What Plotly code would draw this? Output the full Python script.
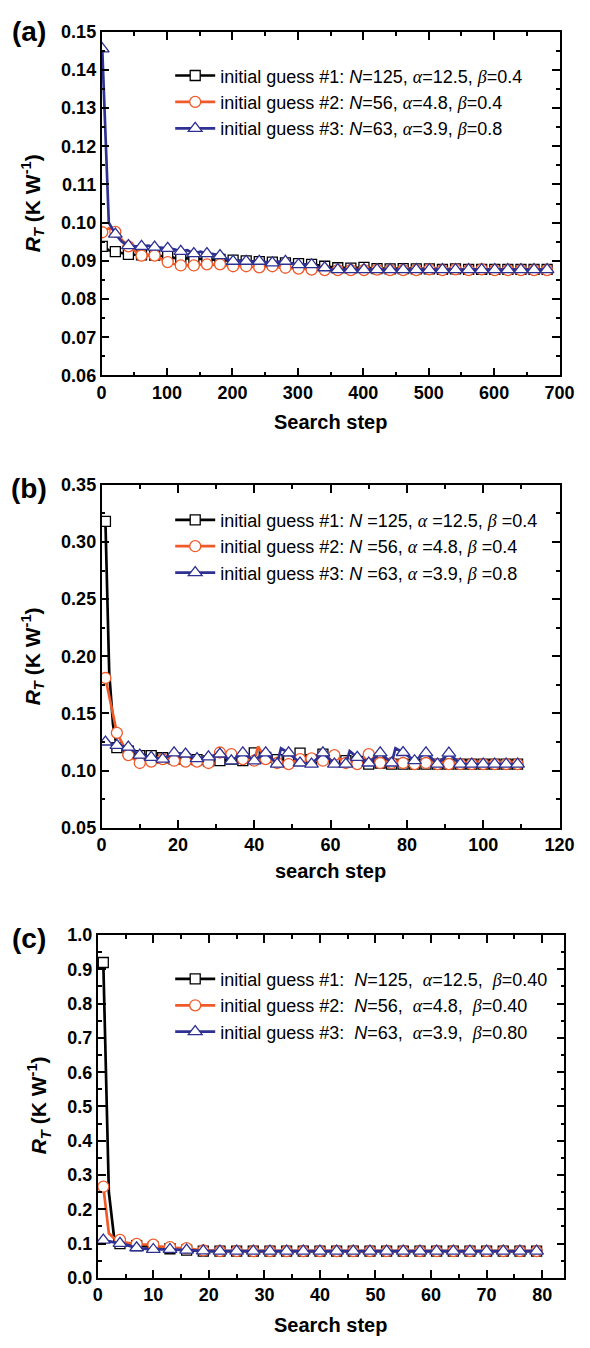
import plotly.graph_objects as go

W, H = 590, 1348

BLACK = "#000000"
ORANGE = "#F05A28"
BLUE = "#2E3192"

# ---------------- panel (a): long search, 0-700 steps ----------------
a_steps = list(range(1, 682, 10))
a_guess1 = [0.0938, 0.0928, 0.0924, 0.0920, 0.0917, 0.0916, 0.0916, 0.0915, 0.0915, 0.0913,
            0.0912, 0.0908, 0.0906, 0.0907, 0.0906, 0.0905, 0.0905, 0.0903, 0.0904, 0.0901,
            0.0902, 0.0900, 0.0900, 0.0898, 0.0898, 0.0896, 0.0897, 0.0894, 0.0895, 0.0893,
            0.0893, 0.0890, 0.0891, 0.0888, 0.0886, 0.0884, 0.0882, 0.0882, 0.0881, 0.0882,
            0.0883, 0.0881, 0.0880, 0.0880, 0.0879, 0.0880, 0.0880, 0.0879, 0.0879, 0.0880,
            0.0879, 0.0879, 0.0878, 0.0879, 0.0879, 0.0878, 0.0878, 0.0879, 0.0878, 0.0878,
            0.0878, 0.0878, 0.0878, 0.0878, 0.0878, 0.0878, 0.0878, 0.0878, 0.0878]
a_guess2 = [0.0975, 0.0985, 0.0976, 0.0955, 0.0938, 0.0925, 0.0914, 0.0915, 0.0914, 0.0905,
            0.0897, 0.0892, 0.0888, 0.0889, 0.0888, 0.0890, 0.0891, 0.0890, 0.0891, 0.0888,
            0.0886, 0.0887, 0.0886, 0.0884, 0.0883, 0.0885, 0.0886, 0.0883, 0.0882, 0.0881,
            0.0880, 0.0878, 0.0877, 0.0876, 0.0876, 0.0877, 0.0876, 0.0876, 0.0876, 0.0876,
            0.0876, 0.0877, 0.0877, 0.0876, 0.0876, 0.0876, 0.0876, 0.0877, 0.0876, 0.0876,
            0.0878, 0.0877, 0.0876, 0.0876, 0.0878, 0.0877, 0.0876, 0.0876, 0.0878, 0.0876,
            0.0876, 0.0876, 0.0876, 0.0876, 0.0876, 0.0876, 0.0876, 0.0876, 0.0876]
a_guess3 = [0.1455, 0.1000, 0.0970, 0.0950, 0.0940, 0.0938, 0.0938, 0.0940, 0.0936, 0.0935,
            0.0933, 0.0930, 0.0925, 0.0928, 0.0919, 0.0924, 0.0919, 0.0918, 0.0914, 0.0905,
            0.0899, 0.0900, 0.0899, 0.0898, 0.0899, 0.0897, 0.0895, 0.0898, 0.0899, 0.0893,
            0.0890, 0.0891, 0.0890, 0.0884, 0.0882, 0.0878, 0.0877, 0.0877, 0.0877, 0.0877,
            0.0877, 0.0877, 0.0877, 0.0877, 0.0877, 0.0877, 0.0877, 0.0877, 0.0877, 0.0877,
            0.0877, 0.0877, 0.0877, 0.0877, 0.0877, 0.0877, 0.0877, 0.0877, 0.0877, 0.0877,
            0.0877, 0.0877, 0.0877, 0.0877, 0.0877, 0.0877, 0.0877, 0.0877, 0.0877]

GREEK = "<span style=\"font-family:'Liberation Serif';font-style:italic\">%s</span>"
ALPHA, BETA = GREEK % "α", GREEK % "β"

a_names = [
    f"initial guess #1: <i>N</i>=125, {ALPHA}=12.5, {BETA}=0.4",
    f"initial guess #2: <i>N</i>=56, {ALPHA}=4.8, {BETA}=0.4",
    f"initial guess #3: <i>N</i>=63, {ALPHA}=3.9, {BETA}=0.8",
]

# ---------------- panel (b): 0-110 steps ----------------
b_steps1 = [1, 2, 3, 4, 7, 10, 13, 16, 19, 22, 25, 28, 31, 34, 37, 40, 43, 46, 49, 52,
            55, 58, 61, 64, 67, 70, 73, 76, 79, 82, 85, 88, 91, 94, 97, 100, 103, 106, 109]
b_guess1 = [0.318, 0.185, 0.140, 0.120, 0.117, 0.113, 0.113, 0.1112, 0.1100, 0.1100,
            0.1095, 0.1085, 0.1086, 0.1100, 0.1086, 0.1155, 0.1115, 0.1095, 0.1086, 0.1152,
            0.1095, 0.1144, 0.1086, 0.1086, 0.1080, 0.1057, 0.1066, 0.1057, 0.1057, 0.1057,
            0.1057, 0.1057, 0.1057, 0.1057, 0.1057, 0.1057, 0.1057, 0.1057, 0.1057]
b_steps2 = [1, 4, 7, 10, 13, 16, 19, 22, 25, 28, 31, 34, 37, 40, 41, 43, 46, 49, 52, 55,
            58, 61, 64, 67, 70, 73, 76, 79, 82, 85, 88, 91, 94, 97, 100, 103, 106, 109]
b_guess2 = [0.181, 0.133, 0.1135, 0.1066, 0.1078, 0.1100, 0.1086, 0.1078, 0.1078, 0.1066,
            0.1158, 0.1144, 0.1100, 0.1086, 0.1210, 0.1100, 0.1066, 0.1057, 0.1100, 0.1106,
            0.1086, 0.1135, 0.1066, 0.1057, 0.1144, 0.1066, 0.1066, 0.1066, 0.1057, 0.1066,
            0.1057, 0.1057, 0.1057, 0.1057, 0.1057, 0.1057, 0.1057, 0.1057]
b_steps3 = [1, 4, 7, 10, 13, 16, 19, 22, 25, 28, 31, 34, 37, 40, 43, 46, 47, 49, 52, 55,
            58, 61, 64, 65, 67, 70, 73, 76, 77, 79, 82, 85, 88, 91, 94, 97, 100, 103, 106, 109]
b_guess3 = [0.1250, 0.1220, 0.1205, 0.1135, 0.1115, 0.1100, 0.1155, 0.1145, 0.1105, 0.1120,
            0.1145, 0.1085, 0.1155, 0.1085, 0.1155, 0.1057, 0.1195, 0.1155, 0.1066, 0.1057,
            0.1155, 0.1057, 0.1057, 0.1170, 0.1115, 0.1066, 0.1155, 0.1066, 0.1195, 0.1158,
            0.1086, 0.1155, 0.1057, 0.1152, 0.1057, 0.1057, 0.1057, 0.1057, 0.1057, 0.1057]
b_names = [
    f"initial guess #1: <i>N</i> =125, {ALPHA} =12.5, {BETA} =0.4",
    f"initial guess #2: <i>N</i> =56, {ALPHA} =4.8, {BETA} =0.4",
    f"initial guess #3: <i>N</i> =63, {ALPHA} =3.9, {BETA} =0.8",
]

# ---------------- panel (c): 0-80 steps ----------------
c_steps = [1, 2, 3, 4, 5, 6, 7, 8, 9, 10, 11, 12, 13, 14, 15, 16, 17, 18, 19,
           22, 25, 28, 31, 34, 37, 40, 43, 46, 49, 52, 55, 58, 61, 64, 67, 70, 73, 76, 79, 80]
c_guess1 = [0.920, 0.250, 0.110, 0.100, 0.097, 0.095, 0.094, 0.093, 0.092, 0.090,
            0.088, 0.086, 0.085, 0.083, 0.082, 0.081, 0.080, 0.079, 0.078,
            0.078, 0.078, 0.078, 0.078, 0.078, 0.078, 0.078, 0.078, 0.078, 0.078, 0.078,
            0.078, 0.078, 0.078, 0.078, 0.078, 0.078, 0.078, 0.078, 0.078, 0.078]
c_guess2 = [0.266, 0.130, 0.115, 0.111, 0.103, 0.100, 0.099, 0.098, 0.097, 0.097,
            0.092, 0.090, 0.090, 0.088, 0.087, 0.087, 0.084, 0.081, 0.080,
            0.078, 0.078, 0.078, 0.078, 0.078, 0.078, 0.078, 0.078, 0.078, 0.078, 0.078,
            0.078, 0.078, 0.078, 0.078, 0.078, 0.078, 0.078, 0.078, 0.078, 0.078]
c_guess3 = [0.110, 0.107, 0.104, 0.101, 0.097, 0.092, 0.088, 0.086, 0.084, 0.083,
            0.083, 0.083, 0.083, 0.082, 0.082, 0.081, 0.080, 0.080, 0.079,
            0.078, 0.078, 0.078, 0.078, 0.078, 0.078, 0.078, 0.078, 0.078, 0.078, 0.078,
            0.078, 0.078, 0.078, 0.078, 0.078, 0.078, 0.078, 0.078, 0.078, 0.078]
SP = "&nbsp; "
c_names = [
    f"initial guess #1:{SP}<i>N</i>=125,{SP}{ALPHA}=12.5,{SP}{BETA}=0.40",
    f"initial guess #2:{SP}<i>N</i>=56,{SP}{ALPHA}=4.8,{SP}{BETA}=0.40",
    f"initial guess #3:{SP}<i>N</i>=63,{SP}{ALPHA}=3.9,{SP}{BETA}=0.80",
]

COLORS = [BLACK, ORANGE, BLUE]
SYMBOLS = ["square", "circle", "triangle-up"]
SIZES = [10, 11, 12]
FONT = "Liberation Sans, Arial, sans-serif"

fig = go.Figure()


def add_series(x, y, k, name, xa, ya, legend, every):
    color = COLORS[k]
    marker = dict(symbol=SYMBOLS[k], size=SIZES[k], color="white",
                  line=dict(color=color, width=1.3))
    fig.add_trace(go.Scatter(x=x, y=y, mode="lines", line=dict(color=color, width=2.7),
                             xaxis=xa, yaxis=ya, showlegend=False, hoverinfo="skip"))
    mx = [s for s in x if (s - 1) % every == 0]
    my = [v for s, v in zip(x, y) if (s - 1) % every == 0]
    fig.add_trace(go.Scatter(x=mx, y=my, mode="markers", marker=marker,
                             xaxis=xa, yaxis=ya, showlegend=False, hoverinfo="skip"))
    fig.add_trace(go.Scatter(x=[None], y=[None], mode="lines+markers", name=name,
                             line=dict(color=color, width=2.7), marker=marker,
                             xaxis=xa, yaxis=ya, legend=legend))


for k, vals in enumerate([a_guess1, a_guess2, a_guess3]):
    add_series(a_steps, vals, k, a_names[k], "x", "y", "legend", 20)
for k, (xs, vals) in enumerate([(b_steps1, b_guess1), (b_steps2, b_guess2), (b_steps3, b_guess3)]):
    add_series(xs, vals, k, b_names[k], "x2", "y2", "legend2", 3)
for k, vals in enumerate([c_guess1, c_guess2, c_guess3]):
    add_series(c_steps, vals, k, c_names[k], "x3", "y3", "legend3", 3)


def px_x(p):
    return p / W


def px_y(p):
    return 1 - p / H


def axis(rng, dtick, minor, dom, anchor, fmt=None):
    d = dict(range=rng, dtick=dtick, tick0=rng[0] if fmt else 0, domain=dom, anchor=anchor,
             showline=True, linecolor="black", linewidth=1.7, mirror="ticks",
             ticks="inside", ticklen=8, tickwidth=1.6, tickcolor="black",
             showgrid=False, zeroline=False,
             minor=dict(dtick=minor, ticks="inside", ticklen=4, tickwidth=1.6, tickcolor="black",
                        showgrid=False),
             tickfont=dict(family=FONT, size=18, color="black", weight="bold"))
    if fmt:
        d["tickformat"] = fmt
    return d


panels = [
    # x-range, dtick, minor, y-range, dtick, minor, fmt, left, right, top, bottom (px)
    ([0, 700], 100, 50, [0.06, 0.15], 0.01, 0.005, ".2f", 100, 574, 22, 371),
    ([0, 120], 20, 10, [0.05, 0.35], 0.05, 0.025, ".2f", 100, 574, 482, 830),
    ([0, 84], 10, 5, [0.0, 1.0], 0.1, 0.05, ".1f", 96, 579, 939, 1287),
]

layout = dict(width=W, height=H, margin=dict(l=0, r=0, t=0, b=0),
              paper_bgcolor="white", plot_bgcolor="white", showlegend=True)
for i, (xr, xd, xm, yr, yd, ym, fmt, l, r, t, b) in enumerate(panels):
    sfx = "" if i == 0 else str(i + 1)
    layout["xaxis" + sfx] = axis(xr, xd, xm, [px_x(l), px_x(r)], "y" + sfx)
    layout["yaxis" + sfx] = axis(yr, yd, ym, [px_y(b), px_y(t)], "x" + sfx, fmt)

legend_tops = [48, 499, 965]
legend_left = 171
for i, top in enumerate(legend_tops):
    key = "legend" if i == 0 else "legend" + str(i + 1)
    layout[key] = dict(x=px_x(legend_left), y=px_y(top), xanchor="left", yanchor="top",
                       bgcolor="rgba(0,0,0,0)", borderwidth=0, itemwidth=40,
                       font=dict(family=FONT, size=18, color="black"))

annotations = []
# panel letters
for txt, yc in [("(a)", 22), ("(b)", 486), ("(c)", 942)]:
    annotations.append(dict(text="<b>" + txt + "</b>", x=px_x(25), y=px_y(yc), xref="paper",
                            yref="paper", showarrow=False, xanchor="center", yanchor="middle",
                            font=dict(family=FONT, size=28, color="black")))
# y-axis titles
ytitle = "<b><i>R</i><sub><i>T</i></sub> (K W<sup>-1</sup>)</b>"
for xc, yc in [(28, 196), (28, 656), (35, 1112)]:
    annotations.append(dict(text=ytitle, x=px_x(xc), y=px_y(yc), xref="paper", yref="paper",
                            showarrow=False, textangle=-90, xanchor="center", yanchor="middle",
                            font=dict(family=FONT, size=21, color="black")))
# x-axis titles
for txt, xc, yc in [("Search step", 337, 418), ("search step", 337, 874), ("Search step", 337, 1335)]:
    annotations.append(dict(text="<b>" + txt + "</b>", x=px_x(xc), y=px_y(yc), xref="paper",
                            yref="paper", showarrow=False, xanchor="center", yanchor="middle",
                            font=dict(family=FONT, size=20, color="black")))
layout["annotations"] = annotations

fig.update_layout(**layout)
fig.write_html("out.html")
